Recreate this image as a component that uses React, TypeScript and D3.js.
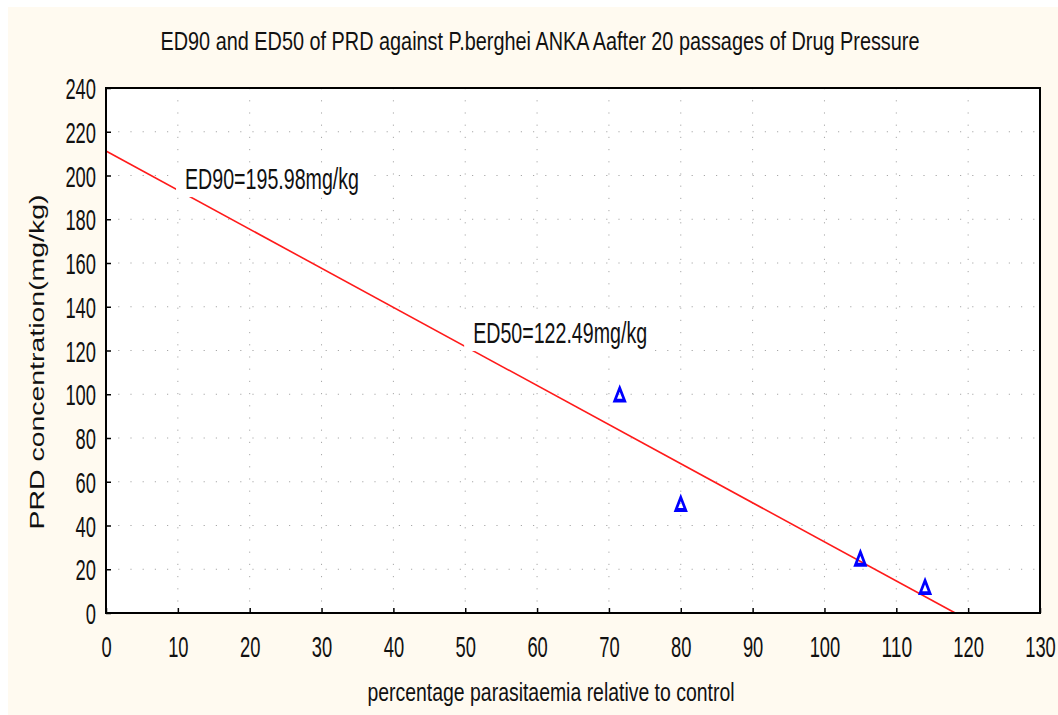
import { useEffect, useRef } from "react";
import * as d3 from "d3";

// ── Data ───────────────────────────────────────────────────────────────────────
const parasitaemia = [71.5, 80, 105, 114];
const concentration = [99, 49, 24, 11];

// fitted regression line (end points)
const fitX = [0, 118.2];
const fitY = [211.2, 0];

const edLabels = ["ED90=195.98mg/kg", "ED50=122.49mg/kg"];
const edLabelX = [11, 51.1];
const edLabelY = [193.8, 123.4];

const xTickValues = [0, 10, 20, 30, 40, 50, 60, 70, 80, 90, 100, 110, 120, 130];
const yTickValues = [0, 20, 40, 60, 80, 100, 120, 140, 160, 180, 200, 220, 240];

const title =
  "ED90 and ED50 of PRD against P.berghei ANKA Aafter 20 passages of Drug Pressure";
const xLabel = "percentage parasitaemia relative to control";
const yLabel = "PRD concentration(mg/kg)";

// ── Component ──────────────────────────────────────────────────────────────────
export default function App() {
  const svgRef = useRef<SVGSVGElement>(null);

  useEffect(() => {
    if (!svgRef.current) return;

    const width = 1050;
    const height = 708;
    const margin = { top: 81, right: 18, bottom: 102, left: 98 };
    const innerWidth = width - margin.left - margin.right;
    const innerHeight = height - margin.top - margin.bottom;
    const font = "'Liberation Sans', Arial, sans-serif";

    const x = d3.scaleLinear().domain([0, 130]).range([0, innerWidth]);
    const y = d3.scaleLinear().domain([0, 240]).range([innerHeight, 0]);

    const svg = d3.select(svgRef.current);
    svg.selectAll("*").remove();

    svg
      .append("rect")
      .attr("width", width)
      .attr("height", height)
      .attr("fill", "#fffaf0");

    // title
    svg
      .append("text")
      .attr("x", 532)
      .attr("y", 43)
      .attr("text-anchor", "middle")
      .attr("font-family", font)
      .attr("font-size", 25)
      .attr("fill", "#111")
      .attr("textLength", 759)
      .attr("lengthAdjust", "spacingAndGlyphs")
      .text(title);

    const g = svg
      .append("g")
      .attr("transform", `translate(${margin.left},${margin.top})`);

    // plot background
    g.append("rect")
      .attr("width", innerWidth)
      .attr("height", innerHeight)
      .attr("fill", "#ffffff");

    // ── dotted grid ──────────────────────────────────────────────────────────
    g.append("g")
      .selectAll("line")
      .data(xTickValues.slice(1, -1))
      .enter()
      .append("line")
      .attr("x1", (d) => x(d))
      .attr("x2", (d) => x(d))
      .attr("y1", 0)
      .attr("y2", innerHeight)
      .attr("stroke", "#a8a8a8")
      .attr("stroke-width", 1)
      .attr("stroke-dasharray", "1.2 11");

    g.append("g")
      .selectAll("line")
      .data(yTickValues.slice(1, -1))
      .enter()
      .append("line")
      .attr("x1", 0)
      .attr("x2", innerWidth)
      .attr("y1", (d) => y(d))
      .attr("y2", (d) => y(d))
      .attr("stroke", "#a8a8a8")
      .attr("stroke-width", 1)
      .attr("stroke-dasharray", "1.2 11");

    // ── fitted line ──────────────────────────────────────────────────────────
    const line = d3
      .line<number>()
      .x((d) => x(d))
      .y((_, i) => y(fitY[i]));
    g.append("path")
      .attr("d", line(fitX))
      .attr("fill", "none")
      .attr("stroke", "#ff1a1a")
      .attr("stroke-width", 1.6);

    // ── ED labels (white boxes break the line) ───────────────────────────────
    edLabels.forEach((t, i) => {
      const lx = x(edLabelX[i]);
      const ly = y(edLabelY[i]);
      g.append("rect")
        .attr("x", lx - 9)
        .attr("y", ly - 26)
        .attr("width", 190)
        .attr("height", 34)
        .attr("fill", "#ffffff");
      g.append("text")
        .attr("x", lx)
        .attr("y", ly)
        .attr("font-family", font)
        .attr("font-size", 29)
        .attr("fill", "#111")
        .attr("textLength", 174)
        .attr("lengthAdjust", "spacingAndGlyphs")
        .text(t);
    });

    // ── points ───────────────────────────────────────────────────────────────
    const tri = d3.symbol().type(d3.symbolTriangle).size(64);
    g.append("g")
      .selectAll("path")
      .data(parasitaemia)
      .enter()
      .append("path")
      .attr("d", tri)
      .attr(
        "transform",
        (d, i) => `translate(${x(d)},${y(concentration[i])}) scale(0.8,1.2)`
      )
      .attr("fill", "none")
      .attr("stroke", "#0000ff")
      .attr("stroke-width", 3.2);

    // ── axes ─────────────────────────────────────────────────────────────────
    const xAxisG = g
      .append("g")
      .attr("transform", `translate(0,${innerHeight})`)
      .call(d3.axisBottom(x).tickValues(xTickValues).tickSizeInner(-5).tickSizeOuter(0).tickPadding(0));
    xAxisG.select(".domain").remove();
    xAxisG.selectAll(".tick line").attr("stroke", "#000").attr("stroke-width", 1.5);
    xAxisG
      .selectAll<SVGTextElement, number>("text")
      .attr("y", 44)
      .attr("dy", null)
      .attr("font-family", font)
      .attr("font-size", 30)
      .attr("fill", "#111")
      .attr("textLength", (d) => String(d).length * 10.2)
      .attr("lengthAdjust", "spacingAndGlyphs");

    const yAxisG = g
      .append("g")
      .call(d3.axisLeft(y).tickValues(yTickValues).tickSizeInner(-5).tickSizeOuter(0).tickPadding(0));
    yAxisG.select(".domain").remove();
    yAxisG.selectAll(".tick line").attr("stroke", "#000").attr("stroke-width", 1.5);
    yAxisG
      .selectAll<SVGTextElement, number>("text")
      .attr("x", -10)
      .attr("dy", null)
      .attr("y", 10.5)
      .attr("font-family", font)
      .attr("font-size", 30)
      .attr("fill", "#111")
      .attr("textLength", (d) => String(d).length * 10.2)
      .attr("lengthAdjust", "spacingAndGlyphs");

    // frame
    g.append("rect")
      .attr("width", innerWidth)
      .attr("height", innerHeight)
      .attr("fill", "none")
      .attr("stroke", "#000")
      .attr("stroke-width", 2);

    // axis titles
    svg
      .append("text")
      .attr("x", 543)
      .attr("y", 694)
      .attr("text-anchor", "middle")
      .attr("font-family", font)
      .attr("font-size", 25)
      .attr("fill", "#111")
      .attr("textLength", 367)
      .attr("lengthAdjust", "spacingAndGlyphs")
      .text(xLabel);

    svg
      .append("text")
      .attr("transform", "translate(36,355) rotate(-90) scale(1,0.7)")
      .attr("text-anchor", "middle")
      .attr("font-family", font)
      .attr("font-size", 29)
      .attr("fill", "#111")
      .attr("textLength", 335)
      .attr("lengthAdjust", "spacingAndGlyphs")
      .text(yLabel);
  }, []);

  return (
    <svg
      ref={svgRef}
      width={1050}
      height={708}
      viewBox="0 0 1050 708"
      style={{ position: "absolute", left: 8, top: 7, display: "block" }}
    />
  );
}
